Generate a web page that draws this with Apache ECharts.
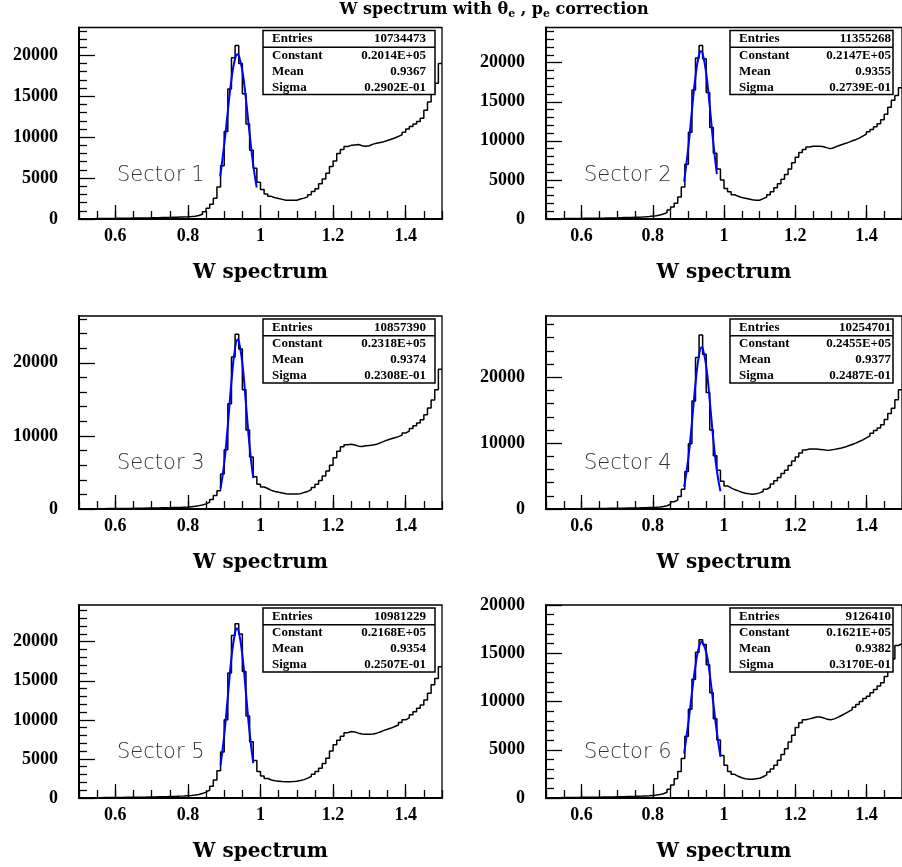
<!DOCTYPE html>
<html><head><meta charset="utf-8">
<script src="https://cdn.jsdelivr.net/npm/echarts@6/dist/echarts.min.js"></script>
<style>html,body{margin:0;padding:0;background:#fff}#c{width:902px;height:867px}</style>
</head><body><div id="c"></div>
<script>
// ---- histogram binning (0.50 .. 1.50, 100 bins) ----
const binLow = 0.5, binWidth = 0.01;
const xTickLabels = [0.6, 0.8, 1.0, 1.2, 1.4];

// ---- bin contents ----
const sector1 = [
30,35,40,45,50,55,60,70,75,80,
90,95,100,105,110,115,120,125,130,140,
150,160,170,180,190,200,210,230,250,270,
300,350,420,580,900,1300,1800,2550,3900,6500,
10700,15900,19700,21200,19000,15300,11600,8400,6200,4500,
3600,3050,2770,2600,2500,2400,2300,2280,2280,2300,
2450,2550,2700,2950,3350,3700,4300,4900,5600,6400,
7100,8000,8500,8850,9000,9050,9100,8950,8900,8950,
9150,9250,9350,9450,9600,9750,9900,10100,10300,10600,
11000,11300,11600,11900,12300,13300,14300,15400,16600,19000];
const sector2 = [
30,35,40,45,50,55,60,65,70,75,
80,85,90,95,100,110,120,130,140,150,
170,180,190,200,215,230,250,280,320,370,
420,520,640,810,1150,1550,2000,2800,4100,7000,
11100,16500,20600,22200,20500,16200,11700,8400,6400,5000,
3900,3500,3100,2900,2750,2650,2550,2450,2400,2400,
2600,2800,3100,3500,4000,4500,5100,5700,6400,7200,
7900,8500,8900,9200,9300,9300,9300,9250,9100,9000,
9150,9350,9500,9650,9800,10000,10150,10350,10600,10850,
11150,11450,11800,12200,12700,13400,14300,15200,15800,16800];
const sector3 = [
20,25,30,35,40,45,50,55,60,65,
70,75,80,85,90,95,100,110,120,130,
140,150,160,170,180,190,200,220,240,260,
320,380,460,560,700,950,1300,1850,2500,4800,
8100,14400,20800,23900,21900,16300,10800,7100,4400,3400,
3000,2800,2550,2400,2300,2200,2100,2050,2050,2050,
2100,2250,2400,2650,2950,3400,3900,4500,5200,6000,
7000,7900,8500,8800,8850,8750,8600,8550,8650,8700,
8750,8850,9050,9250,9450,9600,9750,9900,10100,10400,
10650,11000,11400,11750,12200,12900,13800,14900,16300,19100];
const sector4 = [
10,15,20,25,30,35,40,45,50,55,
60,65,70,75,80,85,90,95,100,110,
120,130,140,150,160,170,185,200,220,240,
270,310,370,500,750,1100,1350,1900,3000,5700,
9900,16400,23000,26400,23500,17700,12000,8100,5900,4200,
3500,3200,2950,2750,2550,2400,2300,2250,2300,2450,
2650,3000,3300,3800,4300,4800,5400,5900,6600,7300,
7900,8500,8950,9100,9100,9100,9050,9000,8900,8950,
9050,9150,9250,9400,9600,9800,10000,10250,10500,10800,
11100,11500,11900,12300,12800,13600,14500,15300,16600,18100];
const sector5 = [
20,25,30,35,40,45,50,55,60,65,
70,75,80,85,90,95,100,110,120,130,
140,150,160,175,190,205,220,240,260,290,
320,380,460,580,750,1000,1500,2300,3500,5900,
10000,16000,20800,22300,21000,16200,10500,7200,4800,3400,
2800,2500,2300,2200,2150,2100,2080,2080,2100,2150,
2250,2350,2550,2750,3050,3400,3800,4400,5100,6000,
6800,7400,7900,8350,8500,8450,8300,8200,8150,8150,
8200,8300,8450,8650,8800,8950,9150,9350,9650,10000,
10250,10650,11050,11500,11900,12550,13400,14500,15300,16800];
const sector6 = [
20,25,30,35,40,45,50,55,60,65,
70,75,80,85,90,95,100,105,110,120,
130,140,150,160,170,185,200,220,240,270,
300,360,440,600,900,1350,2000,2750,4100,6400,
9200,12300,15100,16400,15900,13800,10900,8200,6000,4400,
3400,2750,2450,2250,2100,2000,1950,1950,2000,2050,
2200,2400,2700,3000,3400,3900,4500,5100,5800,6500,
7300,7800,8100,8200,8300,8400,8400,8300,8150,8100,
8200,8350,8550,8750,8950,9150,9400,9700,10000,10300,
10550,10900,11250,11600,11950,12600,13300,14400,15800,16000];

// ---- Gaussian fit curves ----
const fitX1 = [0.889,0.90,0.91,0.92,0.93,0.9367,0.94,0.95,0.96,0.97,0.98,0.9895];
const fitY1 = [5217,9053,13190,17067,19610,20140,20010,18132,14592,10427,6618,3849];
const fitX2 = [0.888,0.90,0.91,0.92,0.93,0.9355,0.94,0.95,0.96,0.97,0.98];
const fitY2 = [4773,9271,13919,18292,21041,21470,21182,18662,14391,9711,5737];
const fitX3 = [0.89,0.90,0.91,0.92,0.93,0.9374,0.94,0.95,0.96,0.97,0.98];
const fitY3 = [2814,6236,11458,17445,22019,23180,23034,19972,14351,8549,4221];
const fitX4 = [0.888,0.90,0.91,0.92,0.93,0.9377,0.94,0.95,0.96,0.97,0.98,0.99];
const fitY4 = [3334,7783,13203,19058,23401,24550,24445,21724,16424,10562,5779,2690];
const fitX5 = [0.89,0.90,0.91,0.92,0.93,0.9354,0.94,0.95,0.96,0.97,0.98];
const fitY5 = [4206,8000,12978,17951,21184,21680,21318,18298,13396,8364,4455];
const fitX6 = [0.888,0.90,0.91,0.92,0.93,0.9382,0.94,0.95,0.96,0.97,0.98,0.99];
const fitY6 = [4626,7842,10912,13748,15676,16210,16184,15126,12796,9801,6795,4265];

// ---- y tick labels per panel ----
const yTicks1 = [0,5000,10000,15000,20000];
const yTicks2 = [0,5000,10000,15000,20000];
const yTicks3 = [0,10000,20000];
const yTicks4 = [0,10000,20000];
const yTicks5 = [0,5000,10000,15000,20000];
const yTicks6 = [0,5000,10000,15000,20000];
const yMax = [23400, 24500, 26400, 29300, 24700, 20000];
const yMajor = [5000, 5000, 10000, 10000, 5000, 5000];

// ---- statistics boxes ----
const sectorNames = ['Sector 1','Sector 2','Sector 3','Sector 4','Sector 5','Sector 6'];
const entries   = ['10734473','11355268','10857390','10254701','10981229','9126410'];
const constants = ['0.2014E+05','0.2147E+05','0.2318E+05','0.2455E+05','0.2168E+05','0.1621E+05'];
const means     = ['0.9367','0.9355','0.9374','0.9377','0.9354','0.9382'];
const sigmas    = ['0.2902E-01','0.2739E-01','0.2308E-01','0.2487E-01','0.2507E-01','0.3170E-01'];
const axisTitle = 'W spectrum';

const histos = [sector1, sector2, sector3, sector4, sector5, sector6];
const fits = [[fitX1,fitY1],[fitX2,fitY2],[fitX3,fitY3],[fitX4,fitY4],[fitX5,fitY5],[fitX6,fitY6]];
const yTickSets = [yTicks1, yTicks2, yTicks3, yTicks4, yTicks5, yTicks6];

const SERIF = "'Liberation Serif','Times New Roman',serif";
const WIDE_SERIF = "'DejaVu Serif',serif";
const colLeft = [79, 546], colW = 363;
const rowTop = [27.5, 316, 605], rowH = [191.5, 193, 193];

const grids = [], xAxes = [], yAxes = [], series = [], graphics = [];
for (let i = 0; i < 6; i++) {
  const r = Math.floor(i / 2), c = i % 2;
  grids.push({left: colLeft[c], top: rowTop[r], width: colW, height: rowH[r],
    show: true, borderColor: '#000', borderWidth: 1.3, backgroundColor: 'transparent'});
  xAxes.push({
    type: 'value', gridIndex: i, position: 'bottom', min: binLow, max: binLow + 100 * binWidth, interval: 0.05,
    axisLine: {show: true, onZero: false, lineStyle: {color: '#000', width: 2}},
    axisTick: {show: true, inside: true, length: 8, lineStyle: {color: '#000', width: 1.3}},
    axisLabel: {customValues: xTickLabels, margin: 8, color: '#000', fontFamily: SERIF, fontWeight: 'bold', fontSize: 18,
      formatter: v => String(+v.toFixed(2))},
    splitLine: {show: false},
    name: axisTitle, nameLocation: 'middle', nameGap: 44,
    nameTextStyle: {fontFamily: WIDE_SERIF, fontWeight: 'bold', fontSize: 20, color: '#000'}
  });
  xAxes.push({
    type: 'value', gridIndex: i, position: 'bottom', min: binLow, max: binLow + 100 * binWidth, interval: 0.05,
    axisLine: {show: false},
    axisTick: {show: true, inside: true, length: 14, customValues: xTickLabels, lineStyle: {color: '#000', width: 1.3}},
    axisLabel: {show: false}, splitLine: {show: false}
  });
  yAxes.push({
    type: 'value', gridIndex: i, min: 0, max: yMax[i], interval: yMajor[i],
    axisLine: {show: true, onZero: false, lineStyle: {color: '#000', width: 2}},
    axisTick: {show: true, inside: true, length: 16, customValues: yTickSets[i], lineStyle: {color: '#000', width: 1.3}},
    minorTick: {show: true, splitNumber: 5, length: 8, lineStyle: {color: '#000', width: 1.3}},
    axisLabel: {customValues: yTickSets[i], margin: 21, color: '#000', fontFamily: SERIF, fontWeight: 'bold', fontSize: 18,
      formatter: v => String(Math.round(v))},
    splitLine: {show: false}
  });
  const h = histos[i];
  const data = h.map((v, k) => [+(binLow + k * binWidth).toFixed(2), v]);
  data.push([+(binLow + h.length * binWidth).toFixed(2), h[h.length - 1]]);
  series.push({type: 'line', xAxisIndex: 2 * i, yAxisIndex: i, data: data, step: 'end',
    symbol: 'none', lineStyle: {color: '#000', width: 1.5}, z: 3, animation: false});
  const fx = fits[i][0], fy = fits[i][1];
  series.push({type: 'line', xAxisIndex: 2 * i, yAxisIndex: i, data: fx.map((x, k) => [x, fy[k]]),
    smooth: true, symbol: 'none', lineStyle: {color: '#0000ff', width: 2}, z: 4, animation: false});

  // stats box
  const bx = c === 0 ? 263 : 730, bw = c === 0 ? 172 : 163;
  const by = rowTop[r] + 3, bh = 64;
  const lx = bx + 9, rx = c === 0 ? bx + bw - 9 : bx + bw - 2;
  graphics.push({type: 'rect', z: 100, shape: {x: bx, y: by, width: bw, height: bh},
    style: {fill: '#fff', stroke: '#000', lineWidth: 1.5}});
  graphics.push({type: 'line', z: 101, shape: {x1: bx, y1: by + 16.7, x2: bx + bw, y2: by + 16.7},
    style: {stroke: '#000', lineWidth: 1.5}});
  const rows = [['Entries', entries[i], 8.5], ['Constant', constants[i], 25], ['Mean', means[i], 41], ['Sigma', sigmas[i], 57]];
  rows.forEach(rw => {
    graphics.push({type: 'text', z: 102, style: {text: rw[0], x: lx, y: by + rw[2], fill: '#000',
      fontFamily: 'Liberation Serif', fontWeight: 'bold', fontSize: 13,
      textAlign: 'left', textVerticalAlign: 'middle', align: 'left', verticalAlign: 'middle'}});
    graphics.push({type: 'text', z: 102, style: {text: rw[1], x: rx, y: by + rw[2], fill: '#000',
      fontFamily: 'Liberation Serif', fontWeight: 'bold', fontSize: 13,
      textAlign: 'right', textVerticalAlign: 'middle', align: 'right', verticalAlign: 'middle'}});
  });
  // sector label
  graphics.push({type: 'text', z: 90, style: {text: sectorNames[i], x: c === 0 ? 117 : 584, y: rowTop[r] + 148,
    fill: '#333', fontFamily: 'DejaVu Sans', fontWeight: 200, fontSize: 21,
    textAlign: 'left', textVerticalAlign: 'middle', align: 'left', verticalAlign: 'middle'}});
}

// page title
graphics.push({type: 'text', z: 110, style: {
  text: '{a|W spectrum with θ}{s|e}{a| , p}{s|e}{a| correction}',
  x: 494, y: 10, textAlign: 'center', textVerticalAlign: 'middle', align: 'center', verticalAlign: 'middle',
  rich: {
    a: {fontFamily: WIDE_SERIF, fontWeight: 'bold', fontSize: 16, lineHeight: 20, fill: '#000', color: '#000'},
    s: {fontFamily: WIDE_SERIF, fontWeight: 'bold', fontSize: 11, lineHeight: 12, verticalAlign: 'bottom', fill: '#000', color: '#000'}
  }
}});

const chart = echarts.init(document.getElementById('c'), null, {renderer: 'canvas'});
chart.setOption({
  backgroundColor: '#fff',
  animation: false,
  grid: grids, xAxis: xAxes, yAxis: yAxes, series: series,
  graphic: {elements: graphics}
});
</script></body></html>
